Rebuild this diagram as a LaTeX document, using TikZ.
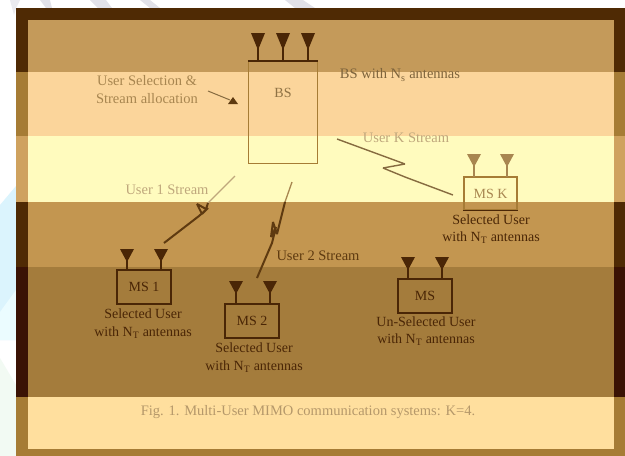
\documentclass[tikz,border=0pt]{standalone}
\usepackage{fontspec}
\setmainfont{Liberation Serif}
\definecolor{fdark}{HTML}{4F2A04}
\definecolor{fmid}{HTML}{A67C35}
\definecolor{flight}{HTML}{CFA25F}
\definecolor{fdarker}{HTML}{3A1204}
\definecolor{bandA}{HTML}{C49A5A}
\definecolor{bandB}{HTML}{FBD59B}
\definecolor{bandC}{HTML}{FFFBBE}
\definecolor{bandD}{HTML}{C39650}
\definecolor{bandE}{HTML}{A47C3C}
\definecolor{bandF}{HTML}{FFDF9E}
\definecolor{ink}{HTML}{4A2606}
\definecolor{fadeA}{HTML}{A88650}
\definecolor{fadeB}{HTML}{BFA77C}
\definecolor{wave}{HTML}{5E3A10}
\tikzset{
  x=1pt,y=-1pt,
  band/.style={fill=#1,draw=none},
  boxdark/.style={draw=ink,line width=1.3pt,minimum width=#1,inner sep=0pt,text=ink,font=\fontsize{14}{16}\selectfont},
  lbl/.style={text=ink,align=center,font=\fontsize{14}{17.5}\selectfont,inner sep=0pt},
  fade/.style={text=fadeA,align=center,font=\fontsize{14.5}{18}\selectfont,inner sep=0pt},
}
\newcommand{\antenna}[5]{% x, head top, head bottom, base y, colour
  \fill[#5] (#1-7,#2) -- (#1+7,#2) -- (#1,#3) -- cycle;
  \draw[#5,line width=1.2pt] (#1,#2+4) -- (#1,#4);
}
\begin{document}
\begin{tikzpicture}
\useasboundingbox (0,0) rectangle (625,456);
\fill[white] (0,0) rectangle (625,456);
% watermark
\fill[cyan!14] (0,205) -- (16,186) -- (16,340) -- (0,340) -- cycle;
\fill[blue!14!cyan!8] (0,312) -- (16,290) -- (16,340) -- (0,340) -- cycle;
\fill[cyan!10!green!5] (0,358) -- (16,385) -- (16,456) -- (0,456) -- cycle;
\fill[blue!12!gray!14] (10,0) -- (14,15) -- (16,8) -- (20,0) -- cycle;
\fill[blue!15!gray!20] (40,0) -- (46,8) -- (52,8) -- (50,0) -- cycle;
\fill[blue!15!gray!20] (90,0) -- (98,8) -- (112,8) -- (106,0) -- cycle;
\fill[blue!15!gray!20] (140,0) -- (150,8) -- (160,8) -- (150,0) -- cycle;
\fill[blue!15!gray!20] (285,0) -- (295,8) -- (315,8) -- (303,0) -- cycle;
% frame
\fill[fdark] (16,8) rectangle (625,72);
\fill[fmid] (16,72) rectangle (625,136);
\fill[flight] (16,136) rectangle (625,202);
\fill[fdark] (16,202) rectangle (625,267);
\fill[fdarker] (16,267) rectangle (625,397);
\fill[fmid] (16,397) rectangle (625,456);
% bands
\fill[band=bandA] (28,20) rectangle (614,72);
\fill[band=bandB] (28,72) rectangle (614,136);
\fill[band=bandC] (28,136) rectangle (614,202);
\fill[band=bandD] (28,202) rectangle (614,267);
\fill[band=bandE] (28,267) rectangle (614,397);
\fill[band=bandF] (28,397) rectangle (614,449);
% BS
\node[draw=fmid,line width=1.2pt,minimum width=69pt,minimum height=102pt,inner sep=0pt] (bs) at (283,112.5) {};
\draw[ink,line width=1.3pt] (bs.north west) -- (bs.north east);
\node[text=fadeA!85!black,font=\fontsize{14}{16}\selectfont,inner sep=0pt] (bst) at (283,93) {BS};
\antenna{258}{33}{50}{61}{ink}
\antenna{283}{33}{50}{61}{ink}
\antenna{308}{33}{50}{61}{ink}
% text top
\node[fade] (sel) at (147,90) {User Selection \&\\Stream allocation};
\coordinate (selS) at (208,91);
\coordinate (selE) at (230,100);
\draw[fadeA!80!black,line width=1pt] (selS) -- (selE);
\fill[wave] (228,104) -- (238,104) -- (233,97) -- cycle;
\node[fade,text=fadeA!75!black] (bsw) at (400,75) {BS with N\textsubscript{s} antennas};
\node[fade,text=fadeB] (uk) at (406,138) {User K Stream};
\node[fade,text=fadeB] (u1) at (167,190) {User 1 Stream};
\node[fade,text=wave] (u2) at (318,256) {User 2 Stream};
% MS K
\node[draw=fmid,line width=1.2pt,minimum width=53pt,minimum height=33pt,inner sep=0pt,text=fadeA,font=\fontsize{14}{16}\selectfont] (msk) at (490.5,193.5) {MS K};
\draw[ink,line width=1.6pt] (msk.south west) -- (msk.south east);
\antenna{474}{154}{167}{177}{fadeA}
\antenna{507}{154}{167}{177}{fadeA}
\node[lbl] (mskl) at (491,229) {Selected User\\with N\textsubscript{T} antennas};
% MS 1
\node[boxdark=54pt,minimum height=34pt] (ms1) at (144,287) {MS 1};
\antenna{127}{249}{262}{270}{ink}
\antenna{161}{249}{262}{270}{ink}
\node[lbl] (ms1l) at (143,323.5) {Selected User\\with N\textsubscript{T} antennas};
% MS 2
\node[boxdark=54pt,minimum height=34pt] (ms2) at (252,321) {MS 2};
\antenna{236}{281}{294}{304}{ink}
\antenna{270}{281}{294}{304}{ink}
\node[lbl] (ms2l) at (254,357.5) {Selected User\\with N\textsubscript{T} antennas};
% MS
\node[boxdark=54pt,minimum height=34pt] (ms) at (425,296) {MS};
\antenna{408}{257}{270}{279}{ink}
\antenna{442}{257}{270}{279}{ink}
\node[lbl] (msl) at (426,331) {Un-Selected User\\with N\textsubscript{T} antennas};
% caption
\node[fade,text=fadeA!85!white] (cap) at (308,412) {Fig. 1. Multi-User MIMO communication systems: K=4.};
% links
\coordinate (a1) at (235,176); \coordinate (b1) at (164,243);
\draw[fadeB,line width=1.3pt] (a1) -- (208,203);
\draw[wave,line width=2pt,line join=bevel] (208,203) -- (206,209) -- (197,204) -- (202,214) -- (208,208) -- (199,216) -- (b1);
\coordinate (a2) at (292,182); \coordinate (b2) at (257,278);
\draw[fadeA,line width=1.3pt] (a2) -- (285,202);
\draw[wave,line width=2pt,line join=bevel] (285,202) -- (277,234) -- (273,222) -- (271,237) -- (276,227) -- (272,243) -- (b2);
\coordinate (ak) at (337,139); \coordinate (bk) at (453,195);
\draw[fadeA!80!black,line width=1.4pt,line join=bevel] (ak) -- (405,164) -- (383,168) -- (405,177) -- (bk);
\end{tikzpicture}
\end{document}
